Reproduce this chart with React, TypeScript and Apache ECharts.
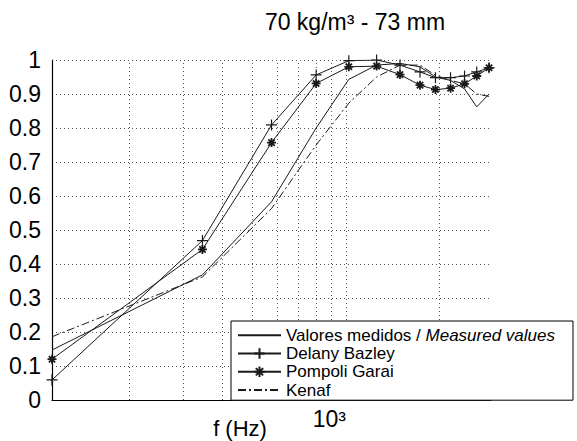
import React, { useEffect, useRef } from 'react';
import * as echarts from 'echarts';

const FONT = '"Liberation Sans", Arial, sans-serif';

const titleText = '70 kg/m³ - 73 mm';
const xAxisName = 'f (Hz)';
const xTickLabel = '10³';

const seriesNames = ['Valores medidos / Measured values', 'Delany Bazley', 'Pompoli Garai', 'Kenaf'];

const frequencies = [113, 345, 576, 802, 1022, 1256, 1494, 1733, 1944, 2174, 2412, 2640, 2893];
const measuredValues = [0.147, 0.368, 0.583, 0.8, 0.943, 0.985, 0.99, 0.98, 0.95, 0.94, 0.915, 0.862, 0.9];
const delanyBazley = [0.059, 0.469, 0.809, 0.956, 0.998, 1.0, 0.985, 0.965, 0.948, 0.948, 0.953, 0.965, 0.977];
const pompoliGarai = [0.12, 0.443, 0.757, 0.931, 0.98, 0.982, 0.957, 0.926, 0.913, 0.917, 0.93, 0.953, 0.977];
const kenafValues = [0.186, 0.362, 0.563, 0.75, 0.873, 0.95, 0.985, 0.985, 0.955, 0.94, 0.93, 0.9, 0.893];

const gridFrequencies = [200, 300, 400, 500, 600, 700, 800, 900, 1000, 2000];
const xMin = 113;
const xMax = 2935;

const PLUS = 'path://M5,0L5,10M0,5L10,5';
const STAR = 'path://M5,0L5,10M0,5L10,5M1.5,1.5L8.5,8.5M8.5,1.5L1.5,8.5';

const pairs = (vals: number[]) => frequencies.map((f, i) => [f, vals[i]]);

export default function App() {
  const ref = useRef<HTMLDivElement>(null);
  useEffect(() => {
    if (!ref.current) return;
    const chart = echarts.init(ref.current, null, { renderer: 'svg' });
    const lineColor = '#1a1a1a';
    const hidden = 'rgba(0,0,0,0)';
    const option: any = {
      animation: false,
      backgroundColor: '#fff',
      textStyle: { fontFamily: FONT },
      grid: { left: 52, right: 86, top: 60, bottom: 41, containLabel: false, outerBoundsMode: 'none' },
      xAxis: {
        type: 'log',
        logBase: 10,
        min: xMin,
        max: xMax,
        axisLine: { show: true, lineStyle: { color: '#000', width: 1.2 } },
        axisTick: { show: false },
        splitLine: { show: false },
        minorTick: { show: false },
        axisLabel: {
          show: true,
          margin: 7,
          align: 'right',
          fontSize: 23,
          color: '#000',
          fontFamily: FONT,
          showMinLabel: false,
          showMaxLabel: false,
          formatter: (v: number) => (Math.abs(v - 1000) < 1 ? xTickLabel : ''),
        },
      },
      yAxis: {
        type: 'value',
        min: 0,
        max: 1,
        interval: 0.1,
        axisLine: { show: true, lineStyle: { color: '#000', width: 1.2 } },
        axisTick: { show: false },
        splitLine: { show: true, lineStyle: { color: '#555', type: [1, 3], width: 1 } },
        axisLabel: { margin: 11, fontSize: 23, color: '#000', fontFamily: FONT },
      },
      legend: {
        orient: 'vertical',
        left: 231,
        top: 321,
        backgroundColor: '#fff',
        borderColor: '#000',
        borderWidth: 1,
        borderRadius: 0,
        padding: [5, 18, 1, 6],
        itemWidth: 43,
        itemHeight: 13,
        itemGap: 0,
        data: seriesNames,
        textStyle: {
          fontSize: 17,
          color: '#000',
          fontFamily: FONT,
          lineHeight: 18.3,
          rich: {
            n: { fontSize: 17, color: '#000', fontFamily: FONT, lineHeight: 18.3 },
            i: { fontSize: 17, color: '#000', fontFamily: FONT, fontStyle: 'italic', lineHeight: 18.3 },
          },
        },
        formatter: (name: string) => {
          if (name === seriesNames[0]) {
            const parts = name.split(' / ');
            return `{n|${parts[0]} / }{i|${parts[1]}}`;
          }
          return name;
        },
      },
      graphic: [
        {
          type: 'text',
          x: 355,
          y: 22,
          style: {
            text: titleText,
            fontSize: 23,
            fontFamily: FONT,
            fill: '#000',
            align: 'center',
            verticalAlign: 'middle',
          },
        },
        {
          type: 'text',
          x: 240,
          y: 428,
          style: {
            text: xAxisName,
            fontSize: 22,
            lineHeight: 22,
            fontFamily: FONT,
            fill: '#000',
            align: 'center',
            verticalAlign: 'middle',
          },
        },
      ],
      series: [
        {
          name: seriesNames[0],
          type: 'line',
          data: pairs(measuredValues),
          symbol: 'circle',
          showSymbol: false,
          lineStyle: { color: lineColor, width: 1 },
          itemStyle: { color: hidden, borderColor: hidden, borderWidth: 0 },
          z: 3,
          markLine: {
            silent: true,
            symbol: ['none', 'none'],
            label: { show: false },
            lineStyle: { color: '#555', type: [1, 3], width: 1 },
            emphasis: { disabled: true },
            data: gridFrequencies.map((f) => ({ xAxis: f })),
            z: 1,
          },
        },
        {
          name: seriesNames[1],
          type: 'line',
          data: pairs(delanyBazley),
          symbol: PLUS,
          symbolSize: 11,
          showAllSymbol: true,
          lineStyle: { color: lineColor, width: 1 },
          itemStyle: { color: lineColor, borderColor: lineColor, borderWidth: 1.2 },
          z: 4,
        },
        {
          name: seriesNames[2],
          type: 'line',
          data: pairs(pompoliGarai),
          symbol: STAR,
          symbolSize: 9,
          showAllSymbol: true,
          lineStyle: { color: lineColor, width: 1 },
          itemStyle: { color: lineColor, borderColor: lineColor, borderWidth: 1.8 },
          z: 4,
        },
        {
          name: seriesNames[3],
          type: 'line',
          data: pairs(kenafValues),
          symbol: 'circle',
          showSymbol: false,
          lineStyle: { color: lineColor, width: 1, type: [8, 3, 2, 3] },
          itemStyle: { color: hidden, borderColor: hidden, borderWidth: 0 },
          z: 3,
        },
      ],
    };
    chart.setOption(option);
    return () => chart.dispose();
  }, []);
  return (
    <div
      ref={ref}
      style={{ position: 'fixed', left: 0, top: 0, width: 577, height: 441, background: '#fff' }}
    />
  );
}
